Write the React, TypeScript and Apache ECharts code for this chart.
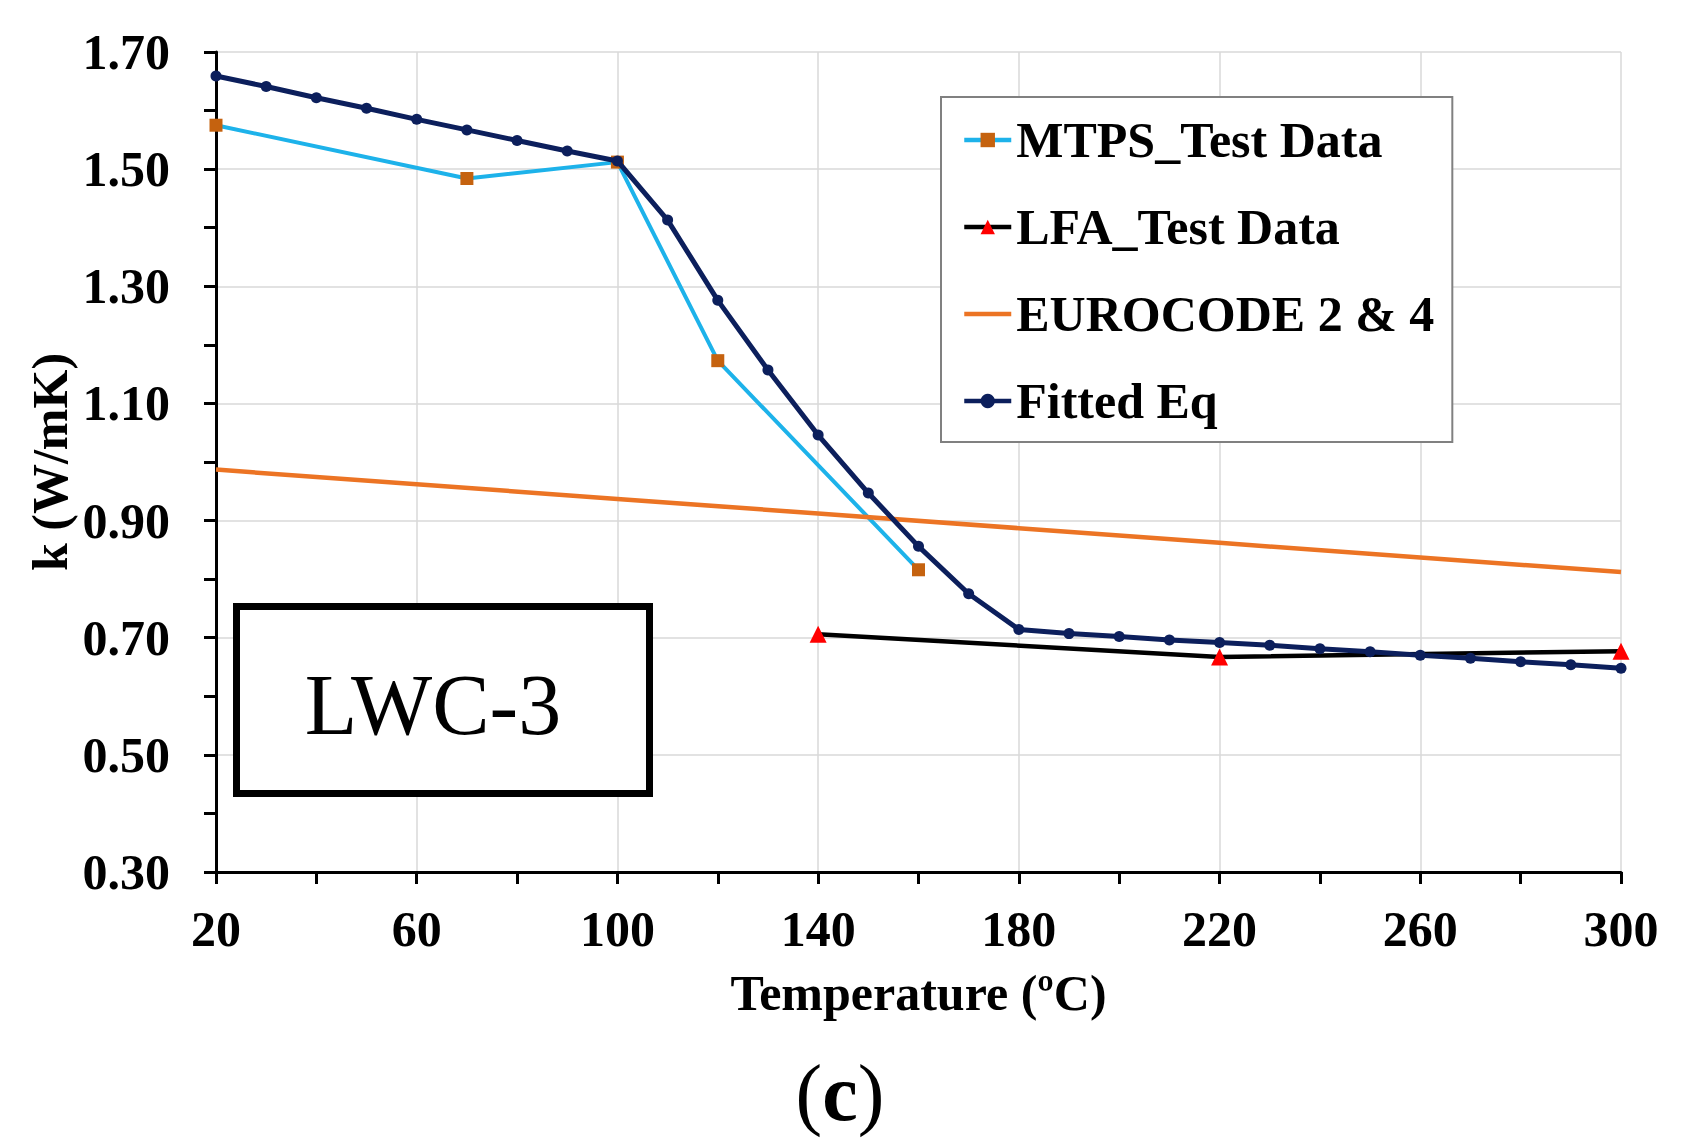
import React, { useEffect, useRef } from "react";
import * as echarts from "echarts";

const FONT = "'Liberation Serif', 'Times New Roman', serif";

const mtpsTemps = [20, 70, 100, 120, 160];
const mtpsValues = [1.575, 1.484, 1.512, 1.173, 0.816];

const lfaTemps = [140, 220, 300];
const lfaValues = [0.706, 0.667, 0.677];

const euroTemps = [20, 60, 100, 140, 180, 220, 260, 300];
const euroValues = [0.987, 0.962, 0.937, 0.912, 0.887, 0.862, 0.837, 0.812];

const fitTemps = [
  20, 30, 40, 50, 60, 70, 80, 90, 100, 110, 120, 130, 140, 150, 160, 170, 180,
  190, 200, 210, 220, 230, 240, 250, 260, 270, 280, 290, 300,
];
const fitValues = [
  1.659, 1.641, 1.622, 1.604, 1.585, 1.567, 1.549, 1.531, 1.514, 1.413, 1.276,
  1.157, 1.046, 0.947, 0.856, 0.775, 0.714, 0.707, 0.702, 0.696, 0.692, 0.687,
  0.681, 0.676, 0.67, 0.665, 0.659, 0.654, 0.648,
];

const seriesNames = ["MTPS_Test Data", "LFA_Test Data", "EUROCODE 2 & 4", "Fitted Eq"];

const xAxisName = "Temperature (ºC)";
const yAxisName = "k (W/mK)";

const pairs = (xs: number[], ys: number[]) => xs.map((x, i) => [x, ys[i]]);

export default function App() {
  const ref = useRef<HTMLDivElement>(null);

  useEffect(() => {
    document.body.style.margin = "0";
    document.body.style.overflow = "hidden";
    if (!ref.current) return;
    const chart = echarts.init(ref.current, null, { renderer: "svg" });

    const axisLine = { show: true, lineStyle: { color: "#000", width: 3 } };
    const tick = { show: true, length: 12, lineStyle: { color: "#000", width: 3 } };
    const grid = { show: true, lineStyle: { color: "#d9d9d9", width: 1.5 } };

    chart.setOption({
      animation: false,
      backgroundColor: "#fff",
      grid: {
        left: 216,
        right: 64,
        top: 52,
        bottom: 276,
        containLabel: false,
        outerBoundsMode: "none",
      },
      legend: {
        show: true,
        orient: "vertical",
        left: 941,
        top: 97,
        data: [
          { name: seriesNames[0] },
          { name: seriesNames[1] },
          { name: seriesNames[2], itemStyle: { color: "rgba(0,0,0,0)", opacity: 0 } },
          { name: seriesNames[3] },
        ],
        padding: [18, 18, 16, 21],
        itemGap: 37,
        itemWidth: 47,
        itemHeight: 18,
        itemTextGap: 6,
        lineStyle: { width: 4.5 },
        backgroundColor: "#fff",
        borderColor: "#808080",
        borderWidth: 2,
        borderRadius: 0,
        selectedMode: false,
        textStyle: {
          fontFamily: FONT,
          fontWeight: "bold",
          fontSize: 50,
          lineHeight: 50,
          color: "#000",
        },
      },
      xAxis: {
        type: "value",
        min: 20,
        max: 300,
        interval: 40,
        name: xAxisName,
        nameLocation: "middle",
        nameGap: 96,
        nameMoveOverlap: false,
        nameTextStyle: {
          fontFamily: FONT,
          fontWeight: "bold",
          fontSize: 50,
          lineHeight: 50,
          color: "#000",
        },
        axisLine,
        axisTick: tick,
        minorTick: { show: true, splitNumber: 2, length: 12, lineStyle: { color: "#000", width: 3 } },
        splitLine: grid,
        axisLabel: {
          fontFamily: FONT,
          fontWeight: "bold",
          fontSize: 50,
          lineHeight: 50,
          color: "#000",
          margin: 32,
          showMinLabel: true,
          showMaxLabel: true,
          hideOverlap: false,
        },
      },
      yAxis: {
        type: "value",
        min: 0.3,
        max: 1.7,
        interval: 0.2,
        name: yAxisName,
        nameLocation: "middle",
        nameGap: 141,
        nameMoveOverlap: false,
        nameTextStyle: {
          fontFamily: FONT,
          fontWeight: "bold",
          fontSize: 50,
          lineHeight: 50,
          color: "#000",
        },
        axisLine,
        axisTick: tick,
        minorTick: { show: true, splitNumber: 2, length: 12, lineStyle: { color: "#000", width: 3 } },
        splitLine: grid,
        axisLabel: {
          fontFamily: FONT,
          fontWeight: "bold",
          fontSize: 50,
          lineHeight: 50,
          color: "#000",
          margin: 46,
          showMinLabel: true,
          showMaxLabel: true,
          hideOverlap: false,
          formatter: (v: number) => v.toFixed(2),
        },
      },
      series: [
        {
          name: seriesNames[0],
          type: "line",
          data: pairs(mtpsTemps, mtpsValues),
          symbol: "rect",
          symbolSize: 13,
          lineStyle: { color: "#1db2ea", width: 4 },
          itemStyle: { color: "#c5620f" },
          z: 2,
        },
        {
          name: seriesNames[1],
          type: "line",
          data: pairs(lfaTemps, lfaValues),
          symbol: "triangle",
          symbolSize: 17,
          lineStyle: { color: "#000", width: 4.5 },
          itemStyle: { color: "#ff0000" },
          z: 3,
        },
        {
          name: seriesNames[2],
          type: "line",
          data: pairs(euroTemps, euroValues),
          symbol: "none",
          lineStyle: { color: "#ec7424", width: 4.5 },
          itemStyle: { color: "#ec7424" },
          z: 2,
        },
        {
          name: seriesNames[3],
          type: "line",
          data: pairs(fitTemps, fitValues),
          symbol: "circle",
          symbolSize: 11,
          lineStyle: { color: "#0c1f5c", width: 5 },
          itemStyle: { color: "#0c1f5c" },
          z: 4,
        },
      ],
      graphic: [
        {
          type: "rect",
          z: 10,
          shape: { x: 236.5, y: 606.5, width: 413, height: 187 },
          style: { fill: "#fff", stroke: "#000", lineWidth: 7 },
        },
        {
          type: "text",
          z: 11,
          x: 433,
          y: 705,
          style: {
            text: "LWC-3",
            fontFamily: FONT,
            fontSize: 86,
            fontWeight: "normal",
            fill: "#000",
            align: "center",
            verticalAlign: "middle",
          },
        },
        {
          type: "text",
          z: 11,
          x: 840,
          y: 1093,
          style: {
            text: "{p|(}{c|c}{p|)}",
            fontFamily: FONT,
            fontSize: 80,
            fill: "#000",
            align: "center",
            verticalAlign: "middle",
            rich: {
              p: { fontFamily: FONT, fontSize: 80, fontWeight: "normal", fill: "#000" },
              c: { fontFamily: FONT, fontSize: 80, fontWeight: "bold", fill: "#000" },
            },
          },
        },
      ],
    });

    return () => chart.dispose();
  }, []);

  return <div ref={ref} style={{ width: 1685, height: 1148 }} />;
}
